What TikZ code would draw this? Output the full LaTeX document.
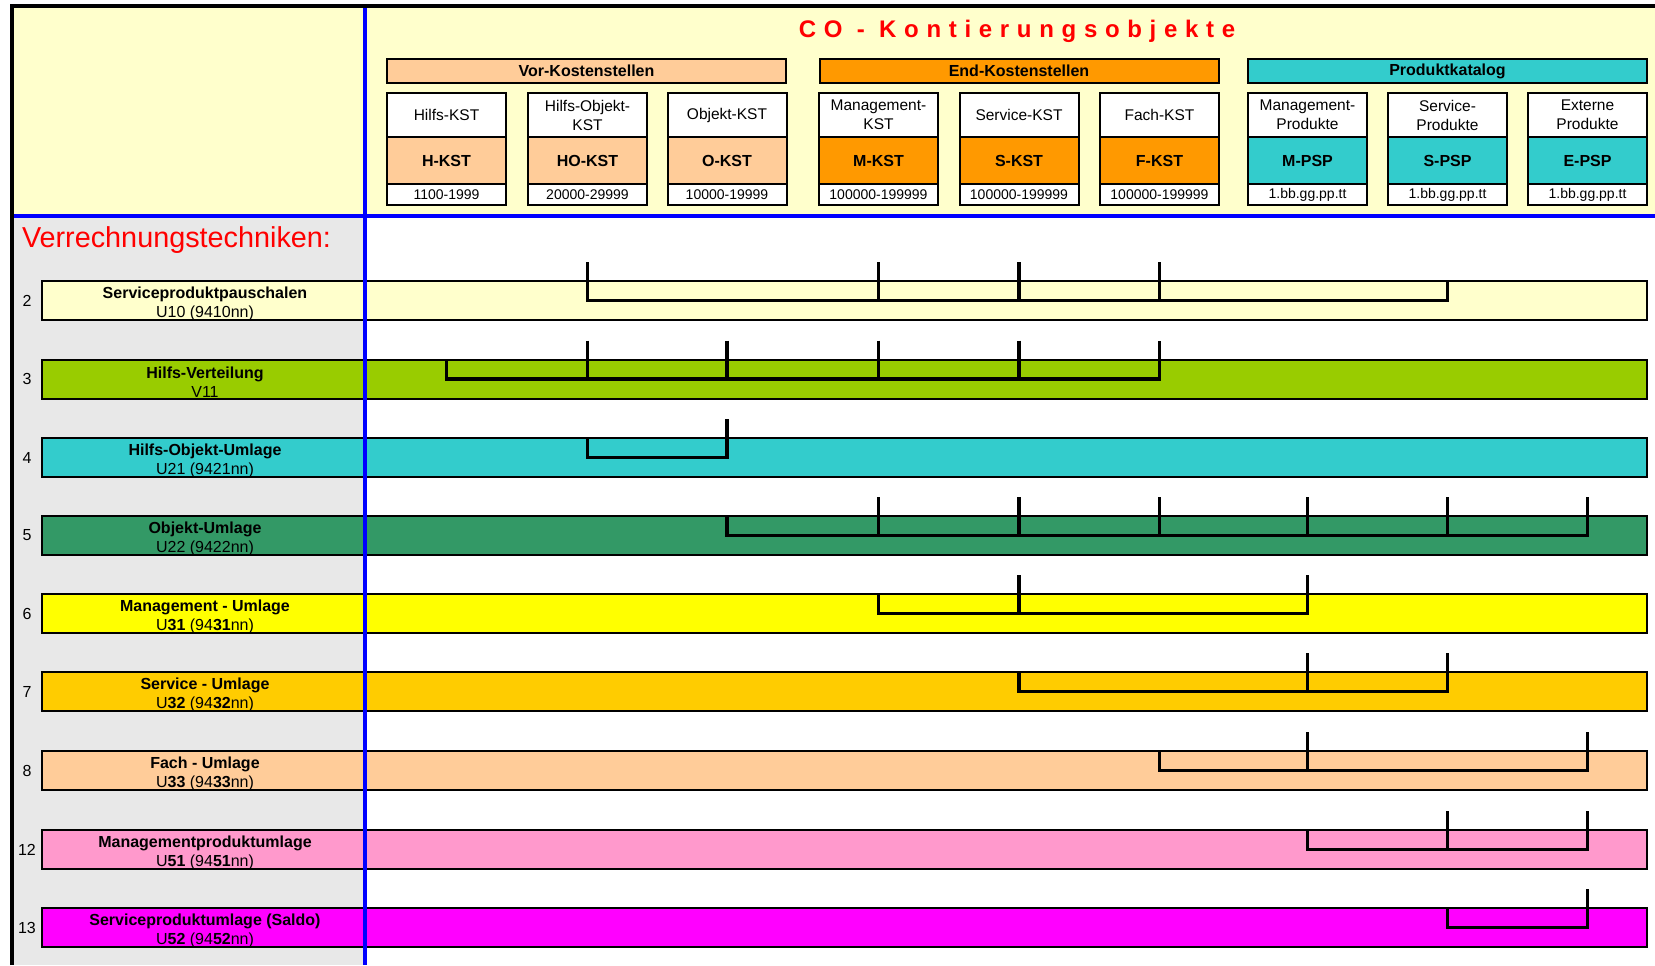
\documentclass[tikz,border=0pt]{standalone}
\usepackage{fontspec}
\setmainfont{Liberation Sans}
\usepackage{xcolor}
\usetikzlibrary{positioning}

\definecolor{hdrbg}{HTML}{FFFFCC}
\definecolor{patgray}{HTML}{E8E8E8}
\definecolor{vorc}{HTML}{FFCC99}
\definecolor{endc}{HTML}{FF9900}
\definecolor{prodc}{HTML}{33CCCC}
\definecolor{rowa}{HTML}{FFFFCC}
\definecolor{rowb}{HTML}{99CC00}
\definecolor{rowc}{HTML}{33CCCC}
\definecolor{rowd}{HTML}{339966}
\definecolor{rowe}{HTML}{FFFF00}
\definecolor{rowf}{HTML}{FFCC00}
\definecolor{rowg}{HTML}{FFCC99}
\definecolor{rowh}{HTML}{FF99CC}
\definecolor{rowi}{HTML}{FF00FF}

\begin{document}
\begin{tikzpicture}[
        x=0.5pt, y=-0.5pt,
        every node/.style={inner sep=0pt, outer sep=0pt, font=\fontsize{7.75}{9.5}\selectfont},
        grouphead/.style={draw, line width=1pt, minimum width=199.5pt, minimum height=12pt, font=\fontsize{8}{9.5}\selectfont\bfseries},
        coltext/.style={draw, line width=1pt, fill=white, minimum width=59.5pt, minimum height=22pt, align=center},
        colcode/.style={draw, line width=1pt, minimum width=59.5pt, minimum height=23.5pt, font=\fontsize{8}{9.5}\selectfont\bfseries},
        colnum/.style={draw, line width=1pt, fill=white, minimum width=59.5pt, minimum height=10.5pt, font=\fontsize{7}{8}\selectfont},
        bar/.style={draw, line width=1pt, minimum width=802.5pt, minimum height=19.5pt},
        barlabel/.style={align=center, yshift=-1.5pt, font=\fontsize{8}{9.5}\selectfont},
        rownum/.style={font=\fontsize{8}{9.5}\selectfont},
        bracket/.style={line width=1.75pt},
        blueline/.style={draw=blue, line width=2.3pt}
    ]
    \useasboundingbox (0,0) rectangle (1655,965);

    % Background
    \fill[white] (0,0) rectangle (1655,965);
    \fill[hdrbg] (12,6) rectangle (1655,216);
    \fill[patgray] (12,216) rectangle (365,965);

    % Header
    \node[text=red, anchor=base, font=\fontsize{12}{14}\selectfont\bfseries\addfontfeature{LetterSpace=32}] (title) at (1017,37) {CO - Kontierungsobjekte};
    \node[grouphead, fill=vorc] (vor) at (586.5,71) {Vor-Kostenstellen};
    \node[grouphead, fill=endc] (end) at (1019,71) {End-Kostenstellen};
    \node[grouphead, fill=prodc] (prod) at (1447.5,71) {Produktkatalog};

    % Columns
    \node[coltext] (hk-t) at (446.5,115) {Hilfs-KST};
    \node[colcode, fill=vorc, below=0pt of hk-t] (hk) {H-KST};
    \node[colnum, below=0pt of hk] (hk-n) {1100-1999};

    \node[coltext] (hok-t) at (587.5,115) {Hilfs-Objekt-\\KST};
    \node[colcode, fill=vorc, below=0pt of hok-t] (hok) {HO-KST};
    \node[colnum, below=0pt of hok] (hok-n) {20000-29999};

    \node[coltext] (ok-t) at (727,115) {Objekt-KST};
    \node[colcode, fill=vorc, below=0pt of ok-t] (ok) {O-KST};
    \node[colnum, below=0pt of ok] (ok-n) {10000-19999};

    \node[coltext] (mk-t) at (878.5,115) {Management-\\KST};
    \node[colcode, fill=endc, below=0pt of mk-t] (mk) {M-KST};
    \node[colnum, below=0pt of mk] (mk-n) {100000-199999};

    \node[coltext] (sk-t) at (1019,115) {Service-KST};
    \node[colcode, fill=endc, below=0pt of sk-t] (sk) {S-KST};
    \node[colnum, below=0pt of sk] (sk-n) {100000-199999};

    \node[coltext] (fk-t) at (1159.5,115) {Fach-KST};
    \node[colcode, fill=endc, below=0pt of fk-t] (fk) {F-KST};
    \node[colnum, below=0pt of fk] (fk-n) {100000-199999};

    \node[coltext] (mp-t) at (1307.5,115) {Management-\\Produkte};
    \node[colcode, fill=prodc, below=0pt of mp-t] (mp) {M-PSP};
    \node[colnum, below=0pt of mp] (mp-n) {1.bb.gg.pp.tt};

    \node[coltext] (sp-t) at (1447.5,115) {Service-\\Produkte};
    \node[colcode, fill=prodc, below=0pt of sp-t] (sp) {S-PSP};
    \node[colnum, below=0pt of sp] (sp-n) {1.bb.gg.pp.tt};

    \node[coltext] (ep-t) at (1587.5,115) {Externe\\Produkte};
    \node[colcode, fill=prodc, below=0pt of ep-t] (ep) {E-PSP};
    \node[colnum, below=0pt of ep] (ep-n) {1.bb.gg.pp.tt};

    % Rows
    \node[text=red, anchor=west, font=\fontsize{14.4}{16}\selectfont] (vt) at (22,240) {Verrechnungstechniken:};

    \node[bar, fill=rowa] (r2) at (844.5,300.5) {};
    \node[bar, fill=rowb] (r3) at (844.5,379) {};
    \node[bar, fill=rowc] (r4) at (844.5,457.5) {};
    \node[bar, fill=rowd] (r5) at (844.5,535.5) {};
    \node[bar, fill=rowe] (r6) at (844.5,613.5) {};
    \node[bar, fill=rowf] (r7) at (844.5,691.5) {};
    \node[bar, fill=rowg] (r8) at (844.5,770.5) {};
    \node[bar, fill=rowh] (r12) at (844.5,849.5) {};
    \node[bar, fill=rowi] (r13) at (844.5,927.5) {};

    \node[barlabel] (l2) at (205,300.5) {\textbf{Serviceproduktpauschalen}\\U10 (9410nn)};
    \node[barlabel] (l3) at (205,379) {\textbf{Hilfs-Verteilung}\\V11};
    \node[barlabel] (l4) at (205,457.5) {\textbf{Hilfs-Objekt-Umlage}\\U21 (9421nn)};
    \node[barlabel] (l5) at (205,535.5) {\textbf{Objekt-Umlage}\\U22 (9422nn)};
    \node[barlabel] (l6) at (205,613.5) {\textbf{Management - Umlage}\\U\textbf{31} (94\textbf{31}nn)};
    \node[barlabel] (l7) at (205,691.5) {\textbf{Service - Umlage}\\U\textbf{32} (94\textbf{32}nn)};
    \node[barlabel] (l8) at (205,770.5) {\textbf{Fach - Umlage}\\U\textbf{33} (94\textbf{33}nn)};
    \node[barlabel] (l12) at (205,849.5) {\textbf{Managementproduktumlage}\\U\textbf{51} (94\textbf{51}nn)};
    \node[barlabel] (l13) at (205,927.5) {\textbf{Serviceproduktumlage (Saldo)}\\U\textbf{52} (94\textbf{52}nn)};

    \node[rownum] (n2) at (27,300.5) {2};
    \node[rownum] (n3) at (27,379) {3};
    \node[rownum] (n4) at (27,457.5) {4};
    \node[rownum] (n5) at (27,535.5) {5};
    \node[rownum] (n6) at (27,613.5) {6};
    \node[rownum] (n7) at (27,691.5) {7};
    \node[rownum] (n8) at (27,770.5) {8};
    \node[rownum] (n12) at (27,849.5) {12};
    \node[rownum] (n13) at (27,927.5) {13};

    % Brackets
    \draw[bracket] ([yshift=9.5pt]hok |- r2.north) -- (hok |- r2.center) -- (sp |- r2.center) -- (sp |- r2.north)
        ([yshift=9.5pt]mk |- r2.north) -- (mk |- r2.center)
        ([yshift=9.5pt]sk |- r2.north) -- (sk |- r2.center)
        ([yshift=9.5pt]fk |- r2.north) -- (fk |- r2.center);
    \draw[bracket] (hk |- r3.north) -- (hk |- r3.center) -- (fk |- r3.center) -- ([yshift=9.5pt]fk |- r3.north)
        ([yshift=9.5pt]hok |- r3.north) -- (hok |- r3.center)
        ([yshift=9.5pt]ok |- r3.north) -- (ok |- r3.center)
        ([yshift=9.5pt]mk |- r3.north) -- (mk |- r3.center)
        ([yshift=9.5pt]sk |- r3.north) -- (sk |- r3.center);
    \draw[bracket] (hok |- r4.north) -- (hok |- r4.center) -- (ok |- r4.center) -- ([yshift=9.5pt]ok |- r4.north);
    \draw[bracket] (ok |- r5.north) -- (ok |- r5.center) -- (ep |- r5.center) -- ([yshift=9.5pt]ep |- r5.north)
        ([yshift=9.5pt]mk |- r5.north) -- (mk |- r5.center)
        ([yshift=9.5pt]sk |- r5.north) -- (sk |- r5.center)
        ([yshift=9.5pt]fk |- r5.north) -- (fk |- r5.center)
        ([yshift=9.5pt]mp |- r5.north) -- (mp |- r5.center)
        ([yshift=9.5pt]sp |- r5.north) -- (sp |- r5.center);
    \draw[bracket] (mk |- r6.north) -- (mk |- r6.center) -- (mp |- r6.center) -- ([yshift=9.5pt]mp |- r6.north)
        ([yshift=9.5pt]sk |- r6.north) -- (sk |- r6.center);
    \draw[bracket] (sk |- r7.north) -- (sk |- r7.center) -- (sp |- r7.center) -- ([yshift=9.5pt]sp |- r7.north)
        ([yshift=9.5pt]mp |- r7.north) -- (mp |- r7.center);
    \draw[bracket] (fk |- r8.north) -- (fk |- r8.center) -- (ep |- r8.center) -- ([yshift=9.5pt]ep |- r8.north)
        ([yshift=9.5pt]mp |- r8.north) -- (mp |- r8.center);
    \draw[bracket] (mp |- r12.north) -- (mp |- r12.center) -- (ep |- r12.center) -- ([yshift=9.5pt]ep |- r12.north)
        ([yshift=9.5pt]sp |- r12.north) -- (sp |- r12.center);
    \draw[bracket] (sp |- r13.north) -- (sp |- r13.center) -- (ep |- r13.center) -- ([yshift=9.5pt]ep |- r13.north);

    % Frame
    \draw[blueline] (365,6) -- (365,965);
    \draw[blueline] (12,216) -- (1655,216);
    \draw[line width=1.75pt] (12,965) -- (12,6) -- (1655,6);

\end{tikzpicture}
\end{document}
